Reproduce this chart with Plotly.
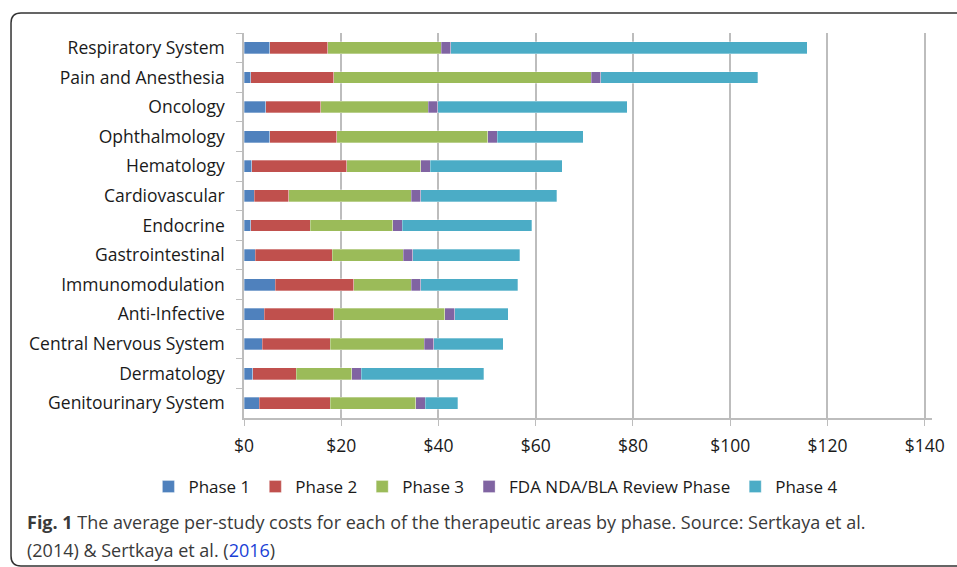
import plotly.graph_objects as go

areas = ["Respiratory System", "Pain and Anesthesia", "Oncology", "Ophthalmology",
         "Hematology", "Cardiovascular", "Endocrine", "Gastrointestinal",
         "Immunomodulation", "Anti-Infective", "Central Nervous System",
         "Dermatology", "Genitourinary System"]

phase1 = [5.3, 1.4, 4.5, 5.3, 1.6, 2.1, 1.4, 2.3, 6.4, 4.2, 3.8, 1.8, 3.1]
phase2 = [11.9, 17.1, 11.3, 13.8, 19.5, 7.1, 12.2, 15.8, 16.2, 14.3, 13.9, 8.9, 14.6]
phase3 = [23.4, 52.9, 22.1, 31.0, 15.2, 25.2, 17.0, 14.7, 11.8, 22.8, 19.4, 11.5, 17.6]
fda_review = [1.9, 2.0, 1.9, 2.0, 2.0, 2.0, 1.9, 1.9, 2.0, 2.0, 1.9, 1.9, 2.0]
phase4 = [73.3, 32.3, 39.0, 17.7, 27.2, 27.9, 26.7, 22.0, 19.9, 11.0, 14.3, 25.2, 6.7]

series_names = ["Phase 1", "Phase 2", "Phase 3", "FDA NDA/BLA Review Phase", "Phase 4"]
series_vals = [phase1, phase2, phase3, fda_review, phase4]
colors = ["#4F81BD", "#C0504D", "#9BBB59", "#8064A2", "#4BACC6"]

x_ticks = [0, 20, 40, 60, 80, 100, 120, 140]
x_ticklabels = ["$" + str(v) for v in x_ticks]

W, H = 957, 567
L, R, T, B = 244, 22, 33, 149
PW = W - L - R
PH = H - T - B

def px(x):
    return (x - L) / PW

def py(y):
    return (H - B - y) / PH

FONT = "'Open Sans', sans-serif"

fig = go.Figure()
for name, vals, c in zip(series_names, series_vals, colors):
    fig.add_trace(go.Bar(
        y=areas, x=vals, name=name, orientation="h",
        marker=dict(color=c, line=dict(color="rgba(255,255,255,0.5)", width=0.6)),
    ))

fig.update_layout(
    width=W, height=H, autosize=False,
    barmode="stack", bargap=0.6,
    margin=dict(l=L, r=R, t=T, b=B, pad=0),
    paper_bgcolor="white", plot_bgcolor="white",
    font=dict(family=FONT, size=16, color="#1a1a1a"),
    xaxis=dict(range=[0, 141.5], tickvals=x_ticks, ticktext=x_ticklabels,
               showgrid=True, gridcolor="#BDBDBD", gridwidth=2,
               showline=True, linecolor="#BDBDBD", linewidth=1.5,
               ticks="outside", ticklen=6, tickcolor="#BDBDBD",
               zeroline=False, tickfont=dict(size=17.5), ticklabelstandoff=5),
    yaxis=dict(autorange="reversed", type="category",
               showline=True, linecolor="#BDBDBD", linewidth=1.5,
               ticks="outside", ticklen=6, tickcolor="#BDBDBD",
               tickson="boundaries", showgrid=False,
               tickfont=dict(size=17.5), ticklabelstandoff=14),
    legend=dict(orientation="h", x=px(148), xanchor="left", y=py(487), yanchor="middle",
                font=dict(size=17), traceorder="normal", itemwidth=30,
                bgcolor="rgba(0,0,0,0)"),
    showlegend=True,
)

# rounded frame
x0, y0, x1, y1, r = 10, 13, 975, 566, 10
path = (f"M {px(x1)},{py(y0)} L {px(x0 + r)},{py(y0)} "
        f"Q {px(x0)},{py(y0)} {px(x0)},{py(y0 + r)} "
        f"L {px(x0)},{py(y1 - r)} Q {px(x0)},{py(y1)} {px(x0 + r)},{py(y1)} "
        f"L {px(x1)},{py(y1)}")
fig.add_shape(type="path", path=path, xref="paper", yref="paper",
              line=dict(color="#333333", width=1.5))

CAP_FONT = dict(family="'Open Sans', sans-serif", size=18, color="#3a3a3a")
fig.add_annotation(
    xref="paper", yref="paper", x=px(24), y=py(522), xanchor="left", yanchor="middle",
    showarrow=False, align="left",
    text="<b>Fig. 1</b> The average per-study costs for each of the therapeutic areas by phase. Source: Sertkaya et al.",
    font=CAP_FONT)
fig.add_annotation(
    xref="paper", yref="paper", x=px(24), y=py(550), xanchor="left", yanchor="middle",
    showarrow=False, align="left",
    text="(2014) &amp; Sertkaya et al. (<span style='color:#1a3fd6'>2016</span>)",
    font=CAP_FONT)

fig.write_html("out.html")
